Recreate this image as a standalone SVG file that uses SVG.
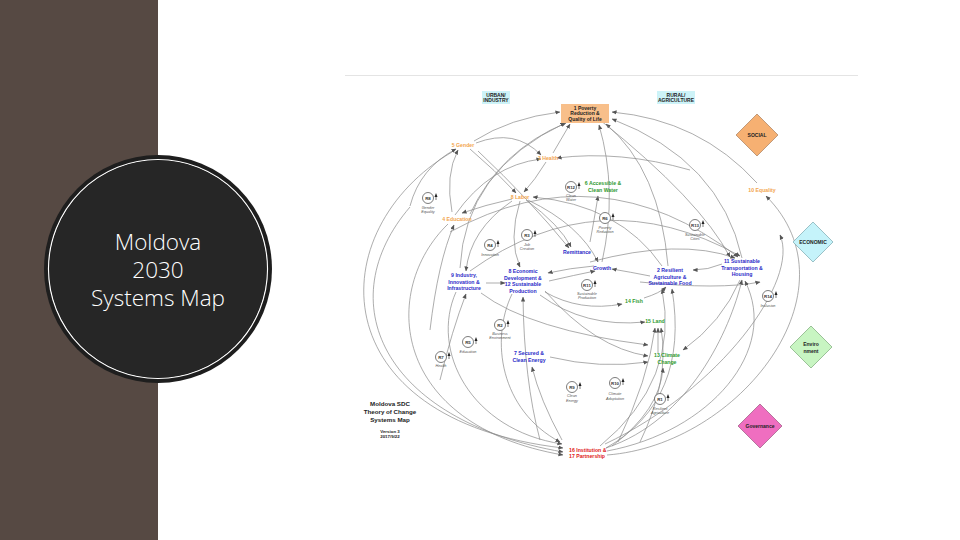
<svg xmlns="http://www.w3.org/2000/svg" width="960" height="540" viewBox="0 0 960 540">
<style>
.lbl{font-family:"Liberation Sans",Arial,sans-serif;font-weight:bold;text-anchor:middle}
.or{fill:#f2a54e;font-size:5.2px}
.bl{fill:#2b2bc8;font-size:5.2px}
.gr{fill:#2f9a2f;font-size:5.2px}
.rd{fill:#e02020;font-size:5.2px}
.dk{fill:#222;font-size:5px}
.cap{font-family:"Liberation Sans",Arial,sans-serif;font-style:italic;font-size:3.8px;fill:#555;text-anchor:middle}
.loop{fill:#fff;stroke:#444;stroke-width:0.7}
.lt{font-family:"Liberation Sans",Arial,sans-serif;font-weight:bold;font-size:4.4px;fill:#333;text-anchor:middle}
.tri{fill:#222}
.con path{fill:none;stroke:#8a8a8a;stroke-width:0.7;marker-end:url(#a)}
.title{font-family:"Liberation Sans",Arial,sans-serif;font-weight:bold;fill:#222;text-anchor:middle}
</style>
<defs>
<marker id="a" viewBox="0 0 6 6" refX="5.5" refY="3" markerWidth="5" markerHeight="5" markerUnits="userSpaceOnUse" orient="auto"><path d="M0,0.5 L6,3 L0,5.5 z" fill="#555"/></marker>
<g id="loopicon"><circle r="5.5" class="loop"/><path d="M6.5,-1 L8,-5 L9.5,-1 z M7.7,-1 L7.7,2 L8.3,2 L8.3,-1 z" class="tri"/></g>
</defs>
<rect width="960" height="540" fill="#ffffff"/>
<rect id="sidebar" x="0" y="0" width="158" height="540" fill="#564943"/>
<g id="title-circle">
<circle cx="158" cy="269" r="114" fill="#1e1e1e"/>
<circle cx="158" cy="269" r="109.5" fill="none" stroke="#ffffff" stroke-width="1.2"/>
<circle cx="158" cy="269" r="108.5" fill="#262626"/>
<text font-family="'Open Sans','Liberation Sans',sans-serif" font-weight="300" font-size="22.5" fill="#ffffff" text-anchor="middle"><tspan x="158" y="250">Moldova</tspan><tspan x="158" y="278">2030</tspan><tspan x="158" y="306">Systems Map</tspan></text>
</g>
<line x1="345" y1="75.5" x2="858" y2="75.5" stroke="#e4e4e4" stroke-width="1"/>

<g id="connectors" class="con">
<!-- top -->
<path d="M474,141 Q510,118 560,112"/>
<path d="M476,143 Q515,128 541,155"/>
<path d="M470,149 Q495,170 516,193"/>
<path d="M410,206 Q420,168 456,149"/>
<path d="M452,212 Q445,175 458,150"/>
<path d="M470,214 Q500,150 566,123"/>
<path d="M553,153 L570,124"/>
<path d="M546,162 Q535,180 524,192"/>
<path d="M455,215 Q490,165 541,159"/>
<path d="M690,170 Q620,150 557,158"/>
<path d="M757,183 Q700,120 612,112"/>
<path d="M742,258 Q720,160 612,119"/>
<path d="M602,262 Q618,190 599,125"/>
<path d="M668,266 Q660,170 606,124"/>
<path d="M460,268 Q465,170 565,123"/>
<!-- labor / education -->
<path d="M512,199 Q485,205 462,213"/>
<path d="M512,201 Q470,230 466,271"/>
<path d="M520,201 Q508,240 520,267"/>
<path d="M526,200 Q560,225 571,247"/>
<path d="M528,200 Q580,225 598,262"/>
<path d="M662,266 Q620,205 533,197"/>
<path d="M478,151 Q530,200 569,248"/>
<path d="M590,242 Q595,215 598,196"/>
<path d="M430,330 Q438,262 454,225"/>
<!-- middle -->
<path d="M594,266 Q570,268 548,273"/>
<path d="M549,281 Q575,275 595,271"/>
<path d="M486,283 L505,283"/>
<path d="M545,292 Q580,312 622,304"/>
<path d="M644,298 Q660,293 666,287"/>
<path d="M722,264 Q708,270 693,270"/>
<path d="M650,276 Q630,272 612,269"/>
<path d="M540,295 Q585,328 645,322"/>
<path d="M545,291 Q595,348 648,356"/>
<path d="M481,293 Q530,330 648,345"/>
<path d="M550,357 Q600,369 648,362"/>
<path d="M658,353 L658,328"/>
<path d="M740,280 Q722,322 683,350"/>
<path d="M590,262 Q680,238 735,258"/>
<path d="M450,232 Q600,150 738,257"/>
<path d="M470,271 Q600,178 740,256"/>
<path d="M600,120 Q700,200 730,257"/>
<path d="M640,282 Q720,290 760,282"/>
<!-- from below -->
<path d="M440,380 Q452,330 466,294"/>
<path d="M540,440 Q524,380 523,297"/>
<path d="M562,440 Q540,400 532,367"/>
<path d="M618,442 Q648,380 655,328"/>
<path d="M640,442 Q670,380 661,328"/>
<path d="M612,446 Q660,410 663,368"/>
<path d="M606,448 Q690,400 672,289"/>
<path d="M600,446 Q680,380 662,289"/>
<!-- big left arcs into 16 -->
<path d="M452,152 C320,230 320,420 563,448"/>
<path d="M448,224 C380,290 390,425 563,455"/>
<path d="M410,207 C330,300 380,420 563,452"/>
<path d="M456,292 C430,350 470,430 562,444"/>
<path d="M512,294 C490,340 500,410 560,442"/>
<!-- big right arcs from 16 -->
<path d="M607,455 C740,445 860,290 766,196"/>
<path d="M607,451 C710,432 780,350 745,281"/>
<path d="M606,448 C690,420 730,330 742,280"/>
<path d="M605,444 C720,390 800,280 780,235"/>
</g>

<g id="urban"><rect x="482" y="91" width="28" height="13" fill="#cdf3f8"/><text class="lbl dk" font-size="4.6"><tspan x="496" y="96.5">URBAN/</tspan><tspan x="496" y="102">INDUSTRY</tspan></text></g>
<g id="rural"><rect x="657" y="91" width="38" height="13" fill="#cdf3f8"/><text class="lbl dk" font-size="4.6"><tspan x="676" y="96.5">RURAL/</tspan><tspan x="676" y="102">AGRICULTURE</tspan></text></g>
<g id="poverty"><rect x="561" y="104" width="48" height="19" fill="#f8bf8a"/><text class="lbl dk"><tspan x="585" y="109.5">1 Poverty</tspan><tspan x="585" y="115">Reduction &amp;</tspan><tspan x="585" y="121">Quality of Life</tspan></text></g>
<g id="social"><polygon points="757,114 778,135 757,156 736,135" fill="#f6b072" stroke="#9a7050" stroke-width="0.6"/><text class="lbl dk" x="757" y="137" font-size="5.5">SOCIAL</text></g>
<g id="economic"><polygon points="813,222 833,242 813,262 793,242" fill="#c5f3fa" stroke="#6a9aa2" stroke-width="0.6"/><text class="lbl dk" x="813" y="244" font-size="5.5">ECONOMIC</text></g>
<g id="environment"><polygon points="811,326 832,347 811,368 790,347" fill="#c8f5c2" stroke="#6a9a66" stroke-width="0.6"/><text class="lbl dk" font-size="5.5"><tspan x="811" y="346">Enviro</tspan><tspan x="811" y="353">nment</tspan></text></g>
<g id="governance"><polygon points="760,404 782,426 760,448 738,426" fill="#ef6ec0" stroke="#8a4a70" stroke-width="0.6"/><text class="lbl dk" x="760" y="428" font-size="5.5">Governance</text></g>

<g id="gender"><text class="lbl or" x="463" y="147">5 Gender</text></g>
<g id="health"><text class="lbl or" x="548" y="160">3 Health</text></g>
<g id="labor"><text class="lbl or" x="520" y="199">8 Labor</text></g>
<g id="education"><text class="lbl or" x="457" y="221">4 Education</text></g>
<g id="equality"><text class="lbl or" x="762" y="192">10 Equality</text></g>
<g id="water"><text class="lbl gr"><tspan x="603" y="185">6 Accessible &amp;</tspan><tspan x="603" y="191.5">Clean Water</tspan></text></g>
<g id="remittance"><text class="lbl bl" x="577" y="254">Remittance</text></g>
<g id="growth"><text class="lbl bl" x="602" y="270">Growth</text></g>
<g id="industry"><text class="lbl bl"><tspan x="464" y="277">9 Industry,</tspan><tspan x="464" y="283.5">Innovation &amp;</tspan><tspan x="464" y="290">Infrastructure</tspan></text></g>
<g id="economicdev"><text class="lbl bl"><tspan x="523" y="273">8 Economic</tspan><tspan x="523" y="279.5">Development &amp;</tspan><tspan x="523" y="286">12 Sustainable</tspan><tspan x="523" y="292.5">Production</tspan></text></g>
<g id="agriculture"><text class="lbl bl"><tspan x="670" y="272">2 Resilient</tspan><tspan x="670" y="278.5">Agriculture &amp;</tspan><tspan x="670" y="285">Sustainable Food</tspan></text></g>
<g id="transport"><text class="lbl bl"><tspan x="742" y="263">11 Sustainable</tspan><tspan x="742" y="269.5">Transportation &amp;</tspan><tspan x="742" y="276">Housing</tspan></text></g>
<g id="fish"><text class="lbl gr" x="634" y="303">14 Fish</text></g>
<g id="land"><text class="lbl gr" x="655" y="323">15 Land</text></g>
<g id="climate"><text class="lbl gr"><tspan x="667" y="357">13 Climate</tspan><tspan x="667" y="363.5">Change</tspan></text></g>
<g id="energy"><text class="lbl bl"><tspan x="529" y="355">7 Secured &amp;</tspan><tspan x="529" y="361.5">Clean Energy</tspan></text></g>
<g id="institution"><text class="lbl rd" text-anchor="start" style="text-anchor:start"><tspan x="569" y="452">16 Institution &amp;</tspan><tspan x="569" y="458">17 Partnership</tspan></text></g>

<g id="R8"><use href="#loopicon" x="428" y="198"/><text class="lt" x="428" y="199.5">R8</text><text class="cap"><tspan x="428" y="209">Gender</tspan><tspan x="428" y="213">Equality</tspan></text></g>
<g id="R12"><use href="#loopicon" x="571" y="187"/><text class="lt" x="571" y="188.5">R12</text><text class="cap"><tspan x="571" y="197">Clean</tspan><tspan x="571" y="201">Water</tspan></text></g>
<g id="R3"><use href="#loopicon" x="527" y="235"/><text class="lt" x="527" y="236.5">R3</text><text class="cap"><tspan x="527" y="246">Job</tspan><tspan x="527" y="250">Creation</tspan></text></g>
<g id="R4"><use href="#loopicon" x="490" y="245"/><text class="lt" x="490" y="246.5">R4</text><text class="cap" x="490" y="256">Innovation</text></g>
<g id="R6"><use href="#loopicon" x="605" y="218"/><text class="lt" x="605" y="219.5">R6</text><text class="cap"><tspan x="605" y="229">Poverty</tspan><tspan x="605" y="233">Reduction</tspan></text></g>
<g id="R13"><use href="#loopicon" x="695" y="225"/><text class="lt" x="695" y="226.5">R13</text><text class="cap"><tspan x="695" y="235.5">Sustainable</tspan><tspan x="695" y="240">Cities</tspan></text></g>
<g id="R11"><use href="#loopicon" x="587" y="285"/><text class="lt" x="587" y="286.5">R11</text><text class="cap"><tspan x="587" y="295">Sustainable</tspan><tspan x="587" y="299">Production</tspan></text></g>
<g id="R14"><use href="#loopicon" x="768" y="296"/><text class="lt" x="768" y="297.5">R14</text><text class="cap" x="768" y="306.5">Inclusion</text></g>
<g id="R2"><use href="#loopicon" x="500" y="325"/><text class="lt" x="500" y="326.5">R2</text><text class="cap"><tspan x="500" y="334.5">Business</tspan><tspan x="500" y="338.5">Environment</tspan></text></g>
<g id="R5"><use href="#loopicon" x="468" y="342"/><text class="lt" x="468" y="343.5">R5</text><text class="cap" x="468" y="353">Education</text></g>
<g id="R7"><use href="#loopicon" x="441" y="357"/><text class="lt" x="441" y="358.5">R7</text><text class="cap" x="441" y="367">Health</text></g>
<g id="R9"><use href="#loopicon" x="572" y="387"/><text class="lt" x="572" y="388.5">R9</text><text class="cap"><tspan x="572" y="397">Clean</tspan><tspan x="572" y="401.5">Energy</tspan></text></g>
<g id="R10"><use href="#loopicon" x="615" y="383"/><text class="lt" x="615" y="384.5">R10</text><text class="cap"><tspan x="615" y="395">Climate</tspan><tspan x="615" y="399.5">Adaptation</tspan></text></g>
<g id="R1"><use href="#loopicon" x="660" y="399"/><text class="lt" x="660" y="400.5">R1</text><text class="cap"><tspan x="660" y="409.5">Resilient</tspan><tspan x="660" y="414">Agriculture</tspan></text></g>

<g id="map-title">
<text class="title" font-size="6.2"><tspan x="390" y="406">Moldova SDC</tspan><tspan x="390" y="414">Theory of Change</tspan><tspan x="390" y="422">Systems Map</tspan></text>
<text class="title" font-size="4.4"><tspan x="390" y="432.5">Version 3</tspan><tspan x="390" y="437.5">2017/9/22</tspan></text>
</g>
</svg>
